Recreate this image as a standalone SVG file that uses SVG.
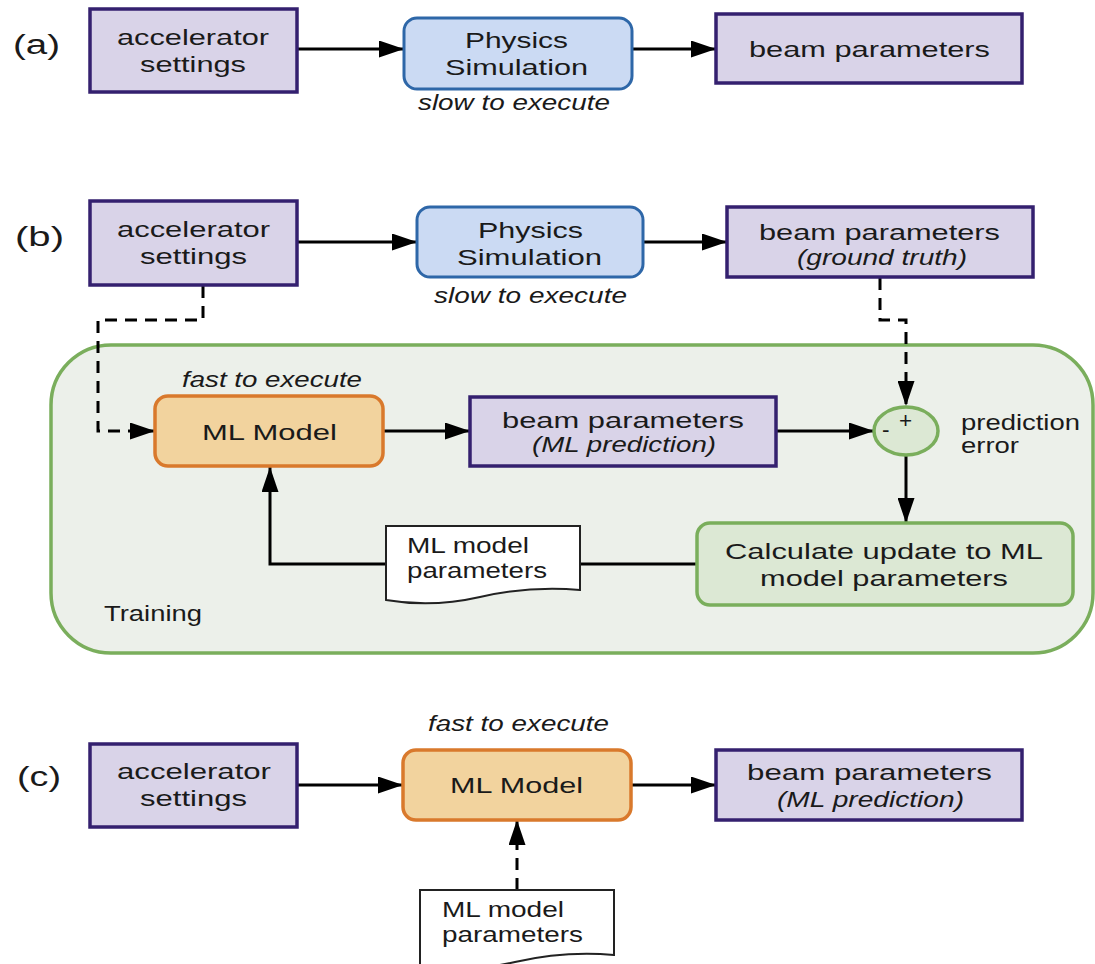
<svg xmlns="http://www.w3.org/2000/svg" width="1095" height="964" viewBox="0 0 1095 964">
<style>
text{font-family:"Liberation Sans",Arial,sans-serif;fill:#1a1a1a}
.lab{font-size:27px}
.t{font-size:22px}
.w{font-size:22.5px}
.i{font-style:italic}
.pur{fill:#d9d3e8;stroke:#34206f;stroke-width:3.5}
.blu{fill:#cbdaf3;stroke:#2e67a8;stroke-width:3}
.org{fill:#f2d39e;stroke:#d9792c;stroke-width:3.5}
.grn{fill:#dce8d4;stroke:#7aae5c;stroke-width:3.5}
.doc{fill:#ffffff;stroke:#222;stroke-width:2}
.ln{fill:none;stroke:#000;stroke-width:3}
.ds{stroke-dasharray:12 8}
</style>
<defs>
<marker id="ah" markerWidth="25" markerHeight="17" refX="25" refY="8.5" orient="auto" markerUnits="userSpaceOnUse"><path d="M0,0 L25,8.5 L0,17 Z" fill="#000"/></marker>
</defs>

<g id="training">
<rect x="51" y="345" width="1042" height="308" rx="60" ry="60" fill="#ecf0ea" stroke="#7aae5c" stroke-width="3.5"/>
<text class="w" x="104" y="621" textLength="98" lengthAdjust="spacingAndGlyphs">Training</text>
</g>

<g id="connectors">
<line class="ln" x1="297" y1="49" x2="404" y2="49" marker-end="url(#ah)"/>
<line class="ln" x1="632" y1="49" x2="716" y2="49" marker-end="url(#ah)"/>
<line class="ln" x1="297" y1="242" x2="417" y2="242" marker-end="url(#ah)"/>
<line class="ln" x1="643" y1="242" x2="727" y2="242" marker-end="url(#ah)"/>
<path class="ln ds" d="M203,286 V320 H98 V431 H155" marker-end="url(#ah)"/>
<path class="ln ds" d="M880,278 V320 H906 V406" marker-end="url(#ah)"/>
<line class="ln" x1="383" y1="431" x2="470" y2="431" marker-end="url(#ah)"/>
<line class="ln" x1="776" y1="431" x2="874" y2="431" marker-end="url(#ah)"/>
<line class="ln" x1="906" y1="455" x2="906" y2="523" marker-end="url(#ah)"/>
<line class="ln" x1="580" y1="564" x2="697" y2="564"/>
<path class="ln" d="M386,564 H270 V467" marker-end="url(#ah)"/>
<line class="ln" x1="297" y1="785" x2="403" y2="785" marker-end="url(#ah)"/>
<line class="ln" x1="631" y1="785" x2="716" y2="785" marker-end="url(#ah)"/>
<line class="ln ds" x1="517" y1="890" x2="517" y2="820" marker-end="url(#ah)"/>
</g>

<g id="label-a"><text class="lab" x="13" y="54" textLength="47" lengthAdjust="spacingAndGlyphs">(a)</text></g>
<g id="a-accel">
<rect class="pur" x="90" y="9" width="207" height="83"/>
<text class="t" x="117" y="45" textLength="152" lengthAdjust="spacingAndGlyphs">accelerator</text>
<text class="t" x="140" y="72" textLength="106" lengthAdjust="spacingAndGlyphs">settings</text>
</g>
<g id="a-physics">
<rect class="blu" x="404" y="18" width="228" height="71" rx="13"/>
<text class="t" x="465" y="48" textLength="103" lengthAdjust="spacingAndGlyphs">Physics</text>
<text class="t" x="445" y="75" textLength="143" lengthAdjust="spacingAndGlyphs">Simulation</text>
<text class="t i" x="418" y="110" font-size="19.5" textLength="192" lengthAdjust="spacingAndGlyphs">slow to execute</text>
</g>
<g id="a-beam">
<rect class="pur" x="716" y="14" width="306" height="69"/>
<text class="t" x="749" y="57" textLength="241" lengthAdjust="spacingAndGlyphs">beam parameters</text>
</g>

<g id="label-b"><text class="lab" x="15" y="246" textLength="49" lengthAdjust="spacingAndGlyphs">(b)</text></g>
<g id="b-accel">
<rect class="pur" x="90" y="201" width="207" height="84"/>
<text class="t" x="117" y="237" textLength="153" lengthAdjust="spacingAndGlyphs">accelerator</text>
<text class="t" x="140" y="264" textLength="107" lengthAdjust="spacingAndGlyphs">settings</text>
</g>
<g id="b-physics">
<rect class="blu" x="417" y="207" width="226" height="70" rx="13"/>
<text class="t" x="478" y="238" textLength="105" lengthAdjust="spacingAndGlyphs">Physics</text>
<text class="t" x="457" y="265" textLength="145" lengthAdjust="spacingAndGlyphs">Simulation</text>
<text class="t i" x="434" y="303" font-size="19.5" textLength="193" lengthAdjust="spacingAndGlyphs">slow to execute</text>
</g>
<g id="b-beam">
<rect class="pur" x="727" y="207" width="306" height="70"/>
<text class="t" x="759" y="240" textLength="241" lengthAdjust="spacingAndGlyphs">beam parameters</text>
<text class="t i" x="797" y="265" font-size="19" textLength="170" lengthAdjust="spacingAndGlyphs">(ground truth)</text>
</g>

<g id="b-mlmodel">
<text class="w i" x="182" y="387" font-size="20" textLength="180" lengthAdjust="spacingAndGlyphs">fast to execute</text>
<rect class="org" x="155" y="396" width="228" height="70" rx="13"/>
<text class="w" x="202" y="440" textLength="135" lengthAdjust="spacingAndGlyphs">ML Model</text>
</g>
<g id="b-mlpred">
<rect class="pur" x="470" y="397" width="306" height="69"/>
<text class="w" x="502" y="428" textLength="242" lengthAdjust="spacingAndGlyphs">beam parameters</text>
<text class="w i" x="532" y="452" font-size="20" textLength="184" lengthAdjust="spacingAndGlyphs">(ML prediction)</text>
</g>
<g id="b-error">
<ellipse class="grn" cx="906" cy="431" rx="32" ry="24"/>
<text class="w" x="882" y="437" font-size="20">-</text>
<text class="w" x="899" y="428" font-size="21">+</text>
<text class="w" x="961" y="430" textLength="119" lengthAdjust="spacingAndGlyphs">prediction</text>
<text class="w" x="961" y="453" textLength="58" lengthAdjust="spacingAndGlyphs">error</text>
</g>
<g id="b-update">
<rect class="grn" x="697" y="523" width="376" height="82" rx="13"/>
<text class="w" x="725" y="559" textLength="318" lengthAdjust="spacingAndGlyphs">Calculate update to ML</text>
<text class="w" x="760" y="586" textLength="248" lengthAdjust="spacingAndGlyphs">model parameters</text>
</g>
<g id="b-doc">
<path class="doc" d="M386,526 H580 V590 C545,587 515,589 480,597 C445,605 415,605 386,600 Z"/>
<text class="w" x="407" y="553" font-size="22" textLength="122" lengthAdjust="spacingAndGlyphs">ML model</text>
<text class="w" x="407" y="578" font-size="22" textLength="140" lengthAdjust="spacingAndGlyphs">parameters</text>
</g>

<g id="label-c"><text class="lab" x="17" y="786" textLength="44" lengthAdjust="spacingAndGlyphs">(c)</text></g>
<g id="c-accel">
<rect class="pur" x="90" y="744" width="207" height="83"/>
<text class="t" x="117" y="779" textLength="154" lengthAdjust="spacingAndGlyphs">accelerator</text>
<text class="t" x="140" y="806" textLength="107" lengthAdjust="spacingAndGlyphs">settings</text>
</g>
<g id="c-mlmodel">
<text class="t i" x="428" y="731" font-size="19.5" textLength="181" lengthAdjust="spacingAndGlyphs">fast to execute</text>
<rect class="org" x="403" y="750" width="228" height="70" rx="13"/>
<text class="t" x="450" y="793" font-size="22.5" textLength="133" lengthAdjust="spacingAndGlyphs">ML Model</text>
</g>
<g id="c-beam">
<rect class="pur" x="716" y="750" width="306" height="70"/>
<text class="t" x="747" y="780" textLength="245" lengthAdjust="spacingAndGlyphs">beam parameters</text>
<text class="t i" x="777" y="807" font-size="19.5" textLength="187" lengthAdjust="spacingAndGlyphs">(ML prediction)</text>
</g>
<g id="c-doc">
<path class="doc" d="M420,890 H614 V955 C580,952 550,954 515,962 C480,970 450,970 420,966 Z"/>
<text class="t" x="442" y="917" textLength="122" lengthAdjust="spacingAndGlyphs">ML model</text>
<text class="t" x="442" y="942" textLength="141" lengthAdjust="spacingAndGlyphs">parameters</text>
</g>
</svg>
